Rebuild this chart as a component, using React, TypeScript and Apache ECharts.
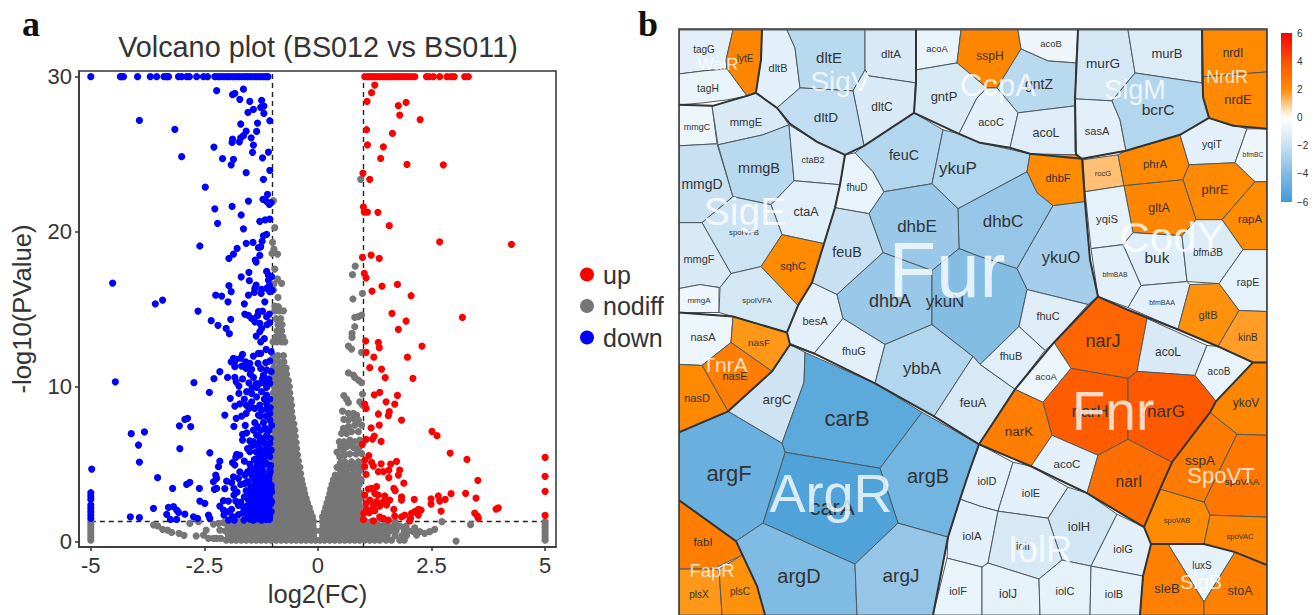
import React, { useEffect, useRef } from "react";
import * as echarts from "echarts";

const FONT = "'Liberation Sans', Arial, sans-serif";

/* ---------- panel a: volcano plot values (log2FC, -log10 P) ---------- */
const cappedP = 30;
const downCappedX = [-5, -4.35, -4.32, -4.28, -3.97, -3.69, -3.55, -3.39, -3.33, -3.29, -3.07, -3, -2.89, -2.83, -2.67, -2.52, -2.43, -2.27, -2.2, -2.14, -2.07, -2, -1.94, -1.87, -1.8, -1.74, -1.67, -1.6, -1.54, -1.47, -1.4, -1.34, -1.27, -1.2, -1.14, -1.1];
const upCappedX = [1.03, 1.1, 1.16, 1.22, 1.28, 1.35, 1.41, 1.47, 1.54, 1.6, 1.66, 1.72, 1.78, 1.85, 1.91, 1.98, 2.05, 2.13, 2.39, 2.45, 2.54, 2.68, 2.84, 2.93, 3, 3.23, 3.31];

const downHigh = [[-2.23,29.1],[-1.88,28.84],[-1.83,28.92],[-1.64,29.2],[-1.72,28.54],[-1.5,28.41],[-1.24,28.47],[-1.26,28.02],[-1.19,28.11],[-1.42,27.89],[-1.54,27.7],[-1.19,27.63],[-1.06,27.16],[-3.93,27.18],[-1.7,26.95],[-1.33,27.01],[-3.15,26.6],[-1.58,26.49],[-1.35,26.47],[-1.64,26.2],[-1.7,26.06],[-1.47,26.06],[-1.88,25.98],[-1.89,25.76],[-1.73,25.8],[-1.42,25.59],[-2.29,25.46],[-1.44,25.12],[-1.09,25.14],[-3,24.84],[-2.1,24.71],[-1.86,24.67],[-1.22,24.77],[-1.91,24.32],[-1.06,23.96],[-1.58,23.81],[-1.2,23.38],[-2.48,22.88],[-1.11,22.41],[-1.21,22.09],[-1.53,21.98],[-1.13,21.96],[-1.03,21.87],[-1.07,21.76],[-2.27,21.48],[-1.89,21.63],[-1.69,21.08],[-2.21,20.54],[-1.28,20.67],[-1.16,20.77],[-1.06,20.82],[-1.64,20.19],[-1.13,19.83],[-1.2,19.74],[-2.6,19.08],[-1.58,19.25],[-1.43,19.31],[-1.23,19.38],[-1.26,19.03],[-1.31,18.97],[-1.78,18.92],[-1.86,18.56],[-1.96,18.28],[-1.28,18.47],[-1.38,18.17],[-1.36,18.04],[-1.52,17.38],[-1.13,17.44],[-1.09,17.2],[-1.02,17.1],[-1.69,17.08],[-1.51,16.84],[-4.52,16.69],[-1.09,16.88],[-1.96,16.52],[-1.36,16.56],[-1.39,16.34],[-1.07,16.54],[-1.24,16.28],[-1.13,16.34],[-1.01,16.24],[-1.91,16.13],[-2.25,15.91],[-2.12,15.85],[-1.53,15.91],[-1.4,16.09],[-1.25,16.02],[-1.06,16.13],[-3.42,15.59],[-3.58,15.35],[-1.98,15.48],[-1.62,15.35],[-1.17,15.48]];
const downMid = [[-2.64,14.88],[-2.35,14.26],[-2.2,13.96],[-1.92,14.34],[-2.02,13.76],[-1.95,13.42],[-1.61,14.69],[-1.53,14.6],[-1.46,14.41],[-1.39,14.19],[-1.31,14.84],[-1.22,14.88],[-1.33,14.58],[-1.07,14.69],[-1.13,14.52],[-1.06,14.13],[-1.28,14.09],[-1.24,13.76],[-1.28,13.55],[-1.36,13.27],[-1.26,12.9],[-1.66,12.09],[-1.31,12.15],[-1.42,11.98],[-1.26,12.15],[-1.14,12.41],[-1.03,12.26],[-1.86,11.83],[-1.8,11.76],[-1.91,11.61],[-1.84,11.55],[-1.59,11.61],[-1.06,11.66],[-1.83,11.29],[-1.68,11.33],[-1.58,11.18],[-1.46,11.12],[-1.26,11.18],[-1.13,11.08],[-1.03,10.97],[-2.16,10.97],[-1.49,10.82],[-1.2,10.75],[-2.29,10.52],[-1.99,10.6],[-1.83,10.6],[-1.42,10.6],[-4.46,10.32],[-2.73,10.26],[-1.8,10.32],[-1.28,10.22],[-1.17,10.22],[-1.06,10.22],[-1.74,10.04],[-1.35,9.96],[-1.13,9.96],[-1.74,9.57],[-1.57,9.68],[-1.46,9.57],[-1.24,9.68],[-2.39,9.63],[-1.13,9.46],[-1.35,9.35],[-1.93,9.25],[-1.46,9.03],[-1.58,8.82],[-1.83,8.75],[-1.28,8.82],[-1.13,8.92],[-1.49,8.71],[-1.39,8.6],[-1.24,8.49],[-1.58,8.28],[-2.05,8.17],[-1.31,8.17],[-1.06,8.28],[-1.8,7.96],[-1.39,7.68],[-1.2,7.68],[-1.06,7.85],[-2.87,7.96],[-2.93,7.89],[-3.05,7.48],[-2.8,7.42],[-1.85,7.44],[-1.16,7.31],[-3.82,7.08],[-4.11,6.97],[-1.57,7.03],[-1.66,6.92],[-1.35,6.88],[-1.28,6.73],[-1.13,6.88],[-1.66,6.56],[-3.95,6.24],[-1.46,6.19],[-3.04,6],[-1.28,6.45],[-1.17,6.34],[-1.06,6.34],[-1.28,6.02],[-1.13,6.02],[-1.03,5.91],[-1.5,5.81],[-2.38,5.74]];
const downLow = [[-1.79,5.63],[-1.72,5.59],[-1.81,5.44],[-1.28,5.59],[-1.17,5.48],[-1.06,5.48],[-2.16,5.2],[-3.93,5.14],[-1.88,5.1],[-1.83,4.95],[-1.5,5.01],[-1.28,5.16],[-1.13,5.05],[-4.98,4.69],[-2.19,4.84],[-1.39,4.73],[-1.24,4.73],[-1.06,4.73],[-3.53,4.13],[-2.25,4.3],[-1.86,4.19],[-1.75,4.09],[-1.61,4.3],[-1.46,4.3],[-1.31,4.3],[-1.2,4.3],[-1.07,4.3],[-2.23,4.09],[-2.3,3.87],[-2.01,3.91],[-1.9,3.81],[-1.61,3.76],[-1.39,3.87],[-1.24,3.87],[-1.09,3.87],[-2.82,3.83],[-2.89,3.7],[-3.2,3.44],[-2.61,3.44],[-2.23,3.44],[-2.28,3.38],[-2.05,3.42],[-1.85,3.44],[-1.46,3.44],[-1.31,3.44],[-1.17,3.44],[-1.03,3.44],[-5,3.16],[-5,2.95],[-5,2.73],[-5,2.37],[-5,2.15],[-5,1.94],[-5,1.72],[-5,1.5],[-1.85,3.01],[-1.5,3.01],[-1.35,3.01],[-1.22,3.01],[-1.07,3.01],[-2.6,2.62],[-2.49,2.47],[-2.08,2.65],[-1.97,2.62],[-1.81,2.62],[-1.53,2.69],[-1.42,2.58],[-1.28,2.62],[-1.13,2.62],[-1.02,2.58],[-2.16,2.3],[-1.57,2.3],[-1.64,2.22],[-1.46,2.26],[-1.35,2.26],[-1.24,2.26],[-1.09,2.26],[-3.62,2.15],[-3.29,2.22],[-3.18,2.26],[-3.11,2.04],[-3.07,1.89],[-1.9,2.09],[-2.08,2.04],[-1.97,1.94],[-1.57,1.94],[-1.46,1.94],[-1.31,1.94],[-1.17,1.89],[-1.03,1.94],[-3.33,1.76],[-2.93,1.78],[-2.41,1.72],[-2.07,1.72],[-1.5,1.61],[-1.35,1.61],[-1.2,1.61],[-1.06,1.61],[-4.13,1.61],[-3.93,1.55],[-2.74,1.61],[-2.65,1.51],[-2.38,1.51],[-3.25,1.44],[-3.11,1.44],[-1.97,1.4],[-1.84,1.4],[-1.63,1.4],[-1.42,1.4],[-1.24,1.4],[-1.07,1.44],[-1.39,3.2],[-1.27,3.22],[-1.13,3.24],[-1.02,3.2],[-1.4,2.8],[-1.25,2.82],[-1.1,2.84],[-1.46,2.45],[-1.3,2.43],[-1.16,2.44],[-1.04,2.42],[-1.4,2.1],[-1.26,2.08],[-1.12,2.06],[-1.42,1.78],[-1.28,1.76],[-1.1,1.76],[-1.38,3.66],[-1.26,3.66],[-1.13,3.68],[-1.03,3.66],[-1.36,4.05],[-1.22,4.06],[-1.08,4.05],[-1.36,4.52],[-1.2,4.52],[-1.05,4.52],[-1.34,4.95],[-1.2,4.95],[-1.04,4.93],[-1.36,5.35],[-1.22,5.36],[-1.36,5.8],[-1.2,5.8],[-1.08,5.78],[-1.38,6.25],[-1.2,6.62],[-1.05,6.66],[-1.26,7.2],[-1.08,7.16],[-1.26,8.1],[-1.14,8.1],[-1.14,8.55],[-1.05,8.64],[-1.18,9.2],[-1.06,9.2],[-1.22,10.5],[-1.08,10.5]];
const downDense = [[-1.33,7.42],[-1.02,7.5],[-1.5,6.5],[-1.42,6.45],[-1.55,6.0],[-1.4,5.3],[-1.1,5.9],[-1.48,4.7],[-1.55,4.5],[-1.42,4.1],[-1.55,3.9],[-1.48,3.6],[-1.58,3.3],[-1.62,2.9],[-1.7,2.55],[-1.75,2.35],[-1.66,1.85],[-1.55,1.6],[-1.75,1.75],[-1.88,1.62],[-1.44,3.15],[-1.18,3.58],[-1.06,2.76],[-1.18,2.98],[-1.33,1.48],[-1.15,1.44],[-1.5,1.46],[-1.7,3.7],[-1.78,3.2],[-1.72,4.5],[-1.62,5.2],[-1.6,7.5],[-1.42,7.2],[-1.52,8.6],[-1.68,8.1],[-1.72,8.9],[-1.36,10.2],[-1.52,10.25],[-1.66,10.5],[-1.45,9.92],[-1.62,9.2],[-1.32,11.5],[-1.15,11.55],[-1.5,11.5],[-1.7,11.85],[-1.18,13.1],[-1.12,14.0]];

const upHigh = [[1.25,29.46],[1.18,28.97],[1.08,28.41],[1.94,28.34],[1.77,28.13],[1.8,27.53],[2.25,27.23],[1.07,26.58],[1.64,26.34],[1.09,25.61],[1.44,25.48],[1.38,24.73],[1.96,24.34],[2.76,24.32],[0.99,23.78],[1.14,23.38],[1,21.61],[1.02,21.27],[1.09,21.27],[1.32,21.25],[1.57,20.39],[2.68,19.35],[4.26,19.18],[0.98,18.34],[1.17,18.49],[1.35,18.28],[1.02,17.31],[1.06,17.03],[1.75,16.6],[1.41,16.49],[1.19,16.17],[2.05,15.87]];
const upLow = [[1.63,14.73],[3.18,14.47],[1.94,14.24],[1.77,13.7],[1.05,12.95],[1.33,12.86],[1.35,12.52],[2.29,12.62],[1.06,12.22],[1.23,11.91],[1.97,11.91],[1.14,11.23],[1.4,11.14],[1.48,10.58],[2.09,10.54],[1.24,9.48],[1.36,9.63],[1.75,9.44],[1.5,9.03],[1.69,8.88],[1.03,8.88],[1.06,8.6],[1.33,8.24],[1.57,8.39],[1.55,8.13],[1.84,7.85],[1.17,7.35],[1.35,7.53],[2.51,7.12],[2.62,6.84],[1.06,6.6],[1.24,6.82],[1.2,6.62],[1.39,6.47],[0.98,6.3],[2.91,5.72],[3.28,5.31],[5,5.44],[1.12,5.55],[1.03,5.27],[1.18,5.12],[1.22,4.88],[1.39,5.03],[1.6,5.01],[1.73,5.18],[1.03,4.84],[1.06,4.34],[1.33,4.52],[1.44,4.52],[1.56,4.62],[1.8,4.62],[1.77,4.3],[1.56,4.13],[5,4.22],[3.52,3.96],[1.89,3.78],[1.11,3.4],[1.18,3.44],[1.29,3.55],[1.67,3.44],[1.7,3.29],[5,3.25],[1.03,3.01],[1.25,3.12],[1.33,3.01],[1.47,2.95],[1.84,2.9],[1.84,2.69],[2.12,2.73],[2.49,2.77],[2.65,2.95],[2.93,3.1],[3.25,3.12],[3.48,2.82],[2.68,2.62],[2.8,2.73],[2.49,2.43],[1.14,2.69],[1.29,2.58],[1.44,2.58],[1.58,2.69],[1.06,2.47],[1.22,2.37],[1.36,2.3],[1.51,2.37],[1.07,2.09],[1.18,2.04],[1.67,2.09],[2.21,2.09],[2.27,2.04],[2.71,1.98],[3.97,2.19],[3.92,2.11],[1.01,1.83],[1.13,1.87],[1.25,2],[2.13,1.94],[2.06,1.83],[2.21,1.72],[1.91,1.72],[3.45,1.85],[5,1.7],[1,1.44],[1.22,1.35],[1.36,1.61],[1.44,1.51],[1.55,1.4],[1.69,1.66],[1.84,1.61],[2.04,1.51],[2.02,1.35],[3.53,1.51],[3.51,1.66]];

const nodiffScattered = [[-0.98,22],[-0.95,20.26],[-1,19.31],[-0.97,18.88],[-0.89,18.56],[-1.01,18.6],[-0.95,17.59],[-0.89,16.95],[-0.8,16.67],[-0.97,16.62],[-0.98,16.24],[-0.88,15.76],[-0.87,15.16],[-0.95,15.2],[0.94,23.38],[0.82,17.78],[0.76,17.23],[0.98,16.02],[0.77,15.66],[0.89,14.52],[0.81,14.47],[0.96,14.62],[0.81,13.87],[0.75,13.44],[0.75,13.18],[0.67,12.62],[0.74,12.43],[0.96,12.22],[0.67,10.9],[0.78,10.75],[0.81,10.6],[0.89,10.43],[0.96,10.26],[0.98,9.53],[0.57,9.42],[0.63,9.2],[0.67,8.97],[0.92,9.03],[0.98,8.82],[0.54,8.43],[0.67,8.28],[0.78,8.28],[0.85,8.17],[0.57,7.89],[0.67,7.85],[0.78,7.96],[0.89,7.85],[0.96,7.53],[0.56,7.31],[0.67,7.42],[0.81,7.53],[0.52,6.99],[0.63,6.99],[0.74,7.1],[0.89,7.1],[0.47,6.45],[0.57,6.45],[0.7,6.56],[0.81,6.45],[0.92,6.56],[0.5,6.13],[0.63,6.13],[0.78,6.09],[0.92,6.13],[0.48,5.48],[0.59,5.59],[0.7,5.66],[0.84,5.66],[0.96,5.7],[0.59,5.16],[0.49,5.06],[0.74,5.16],[0.89,5.16],[0.5,4.58],[0.63,4.62],[0.78,4.62],[0.92,4.58],[0.42,4.8],[0.56,4.9],[0.7,4.9],[0.84,4.88],[0.96,4.9],[0.42,5.78],[0.56,5.85],[0.86,5.95],[0.68,6.22]];
const nodiffFarLeft = [[-3.62,1.08],[-3.53,1.03],[-3.42,0.8],[-3.31,0.75],[-3.22,0.6],[-3.06,0.54],[-2.95,0.41],[-2.68,0.37],[-2.82,1.18],[-2.63,1.29],[-2.52,0.43],[-2.46,0.75],[-2.41,0.22],[-2.3,0.22],[-2.23,0.22],[-2.14,0.22],[-2.3,1.14],[-2.19,1.18],[-2.08,1.23],[-2.16,0.75]];
const nodiffFarRight = [[2.13,0.9],[2.24,0.65],[2.35,0.54],[2.46,0.65],[2.57,0.8],[2.73,1.29],[3.36,1.1],[3.04,0.04],[2.1,0.65],[2.17,0.43]];
const nodiffEdgeColumns = [[-5,0.1],[-5,0.3],[-5,0.5],[-5,0.7],[-5,0.9],[-5,1.1],[-5,1.28],[5,0.1],[5,0.3],[5,0.5],[5,0.7],[5,0.9],[5,1.1],[5,1.28]];

const nodiffBandY01 = [-2.02,-1.91,-1.8,-1.69,-1.58,-1.47,-1.36,-1.25,-1.14,-1.03,-0.92,-0.81,-0.7,-0.59,-0.48,-0.37,-0.26,-0.15,-0.05,0.05,0.15,0.26,0.37,0.48,0.59,0.7,0.81,0.92,1.03,1.14,1.25,1.36,1.5,1.62,1.8,1.9];
const nodiffBandY04 = [-1.97,-1.85,-1.74,-1.63,-1.52,-1.41,-1.3,-1.19,-1.08,-0.97,-0.86,-0.75,-0.64,-0.53,-0.42,-0.31,-0.2,-0.1,0.1,0.2,0.31,0.42,0.53,0.64,0.75,0.86,0.97,1.08,1.19,1.3,1.41,1.52,1.7,1.85,1.95];
const nodiffBandY07 = [-2.04,-1.92,-1.81,-1.7,-1.59,-1.48,-1.37,-1.26,-1.15,-1.04,-0.93,-0.82,-0.71,-0.6,-0.49,-0.38,-0.27,-0.16,-0.06,0.06,0.16,0.27,0.38,0.49,0.6,0.71,0.82,0.93,1.04,1.15,1.26,1.37,1.48,1.59,1.72,1.9,2];
const nodiffBandY10 = [-1.98,-1.86,-1.75,-1.64,-1.53,-1.42,-1.31,-1.2,-1.09,-0.98,-0.87,-0.76,-0.65,-0.54,-0.43,-0.32,-0.21,-0.11,0.11,0.21,0.32,0.43,0.54,0.65,0.76,0.87,0.98,1.09,1.2,1.31,1.42,1.53,1.66,1.8,1.94];
const nodiffBandY13 = [-1.95,-1.83,-1.72,-1.6,-1.5,-1.38,-1.27,-1.16,-1.05,-0.94,-0.83,-0.72,-0.61,-0.5,-0.39,-0.28,-0.17,-0.1,0.1,0.17,0.28,0.39,0.5,0.61,0.72,0.83,0.94,1.06,1.18,1.3,1.48,1.7];

const nodiffLeftLobe = [
[1.6,[-0.98,-0.88,-0.78,-0.68,-0.58,-0.48,-0.38,-0.28,-0.18,-0.12]],
[1.9,[-0.96,-0.85,-0.75,-0.65,-0.55,-0.45,-0.35,-0.25,-0.16]],
[2.2,[-0.98,-0.88,-0.78,-0.68,-0.58,-0.48,-0.38,-0.28,-0.19]],
[2.5,[-0.96,-0.85,-0.75,-0.65,-0.55,-0.45,-0.35,-0.23]],
[2.8,[-0.98,-0.88,-0.78,-0.68,-0.58,-0.48,-0.38,-0.26]],
[3.1,[-0.96,-0.85,-0.75,-0.65,-0.55,-0.45,-0.36,-0.29]],
[3.4,[-0.98,-0.88,-0.78,-0.68,-0.58,-0.48,-0.4,-0.31]],
[3.7,[-0.96,-0.85,-0.75,-0.65,-0.55,-0.45,-0.34]],
[4,[-0.98,-0.88,-0.78,-0.68,-0.58,-0.48,-0.36]],
[4.2,[-0.93,-0.83,-0.72,-0.62,-0.52,-0.42]],
[4.4,[-0.96,-0.85,-0.75,-0.65,-0.55,-0.46,-0.38]],
[4.6,[-0.93,-0.82,-0.7,-0.6,-0.5]],
[4.8,[-0.98,-0.88,-0.78,-0.68,-0.58,-0.5,-0.4]],
[5,[-0.93,-0.82,-0.7,-0.6,-0.47]],
[5.2,[-0.96,-0.85,-0.75,-0.65,-0.55,-0.43]],
[5.4,[-0.93,-0.82,-0.7,-0.6,-0.5]],
[5.6,[-0.98,-0.88,-0.78,-0.68,-0.58,-0.45]],
[5.8,[-0.92,-0.82,-0.7,-0.6,-0.5]],
[6,[-0.96,-0.85,-0.75,-0.65,-0.56,-0.47]],
[6.2,[-0.92,-0.82,-0.7,-0.6,-0.52]],
[6.4,[-0.98,-0.88,-0.78,-0.68,-0.58,-0.48]],
[6.6,[-0.93,-0.82,-0.72,-0.6,-0.53]],
[6.8,[-0.96,-0.85,-0.75,-0.65,-0.5]],
[7,[-0.92,-0.82,-0.7,-0.58]],
[7.2,[-0.98,-0.88,-0.78,-0.68,-0.59,-0.51]],
[7.4,[-0.92,-0.82,-0.7,-0.6]],
[7.6,[-0.96,-0.85,-0.75,-0.65,-0.53]],
[7.8,[-0.92,-0.82,-0.7,-0.6]],
[8,[-0.98,-0.88,-0.78,-0.68,-0.56]],
[8.2,[-0.92,-0.82,-0.72,-0.62]],
[8.4,[-0.96,-0.85,-0.75,-0.65,-0.58]],
[8.6,[-0.92,-0.82,-0.72,-0.62]],
[8.8,[-0.98,-0.88,-0.78,-0.68,-0.58]],
[9,[-0.92,-0.82,-0.7,-0.62]],
[9.2,[-0.96,-0.85,-0.75,-0.6]],
[9.4,[-0.92,-0.82,-0.68]],
[9.6,[-0.98,-0.88,-0.78,-0.7,-0.62]],
[9.8,[-0.92,-0.82,-0.7]],
[10,[-0.96,-0.85,-0.75,-0.63]],
[10.2,[-0.92,-0.82,-0.7]],
[10.4,[-0.98,-0.88,-0.78,-0.65]],
[10.6,[-0.92,-0.82,-0.72]],
[10.8,[-0.96,-0.85,-0.75,-0.69]],
[11,[-0.92,-0.82,-0.72]],
[11.2,[-0.98,-0.88,-0.78,-0.7]],
[11.6,[-0.96,-0.85,-0.75]],
[12,[-0.98,-0.88,-0.76]],
[12.9,[-0.99,-0.9,-0.8,-0.73]],
[13.2,[-0.93,-0.84,-0.77]],
[13.6,[-0.9,-0.8]],
[14,[-0.88,-0.79]],
[14.4,[-0.92,-0.82]],
[14.9,[-0.95,-0.85,-0.76]],
];
const nodiffRightLobe = [
[1.6,[0.1,0.2,0.3,0.4,0.5,0.6,0.7,0.8,0.9]],
[1.9,[0.14,0.24,0.34,0.44,0.54,0.64,0.74,0.84,0.94]],
[2.2,[0.17,0.27,0.37,0.47,0.57,0.67,0.77,0.87,0.95]],
[2.5,[0.2,0.3,0.4,0.5,0.6,0.7,0.8,0.9]],
[2.8,[0.23,0.33,0.43,0.53,0.63,0.73,0.83,0.93]],
[3.1,[0.26,0.36,0.46,0.56,0.66,0.76,0.86,0.95]],
[3.4,[0.28,0.38,0.48,0.58,0.68,0.78,0.88]],
[3.7,[0.31,0.41,0.51,0.61,0.71,0.81,0.91]],
[4,[0.34,0.44,0.54,0.64,0.74,0.84,0.95]],
[4.3,[0.38,0.48,0.58,0.68,0.78,0.88]],
];

/* ---------- panel b: Voronoi treemap, [gene, log2FC, label size, label x, label y, outline] ---------- */
const walR = [
["tagG",-1,10,704,50,[679,30,733,30,726,60,727,69,703,71,679,74]],
["lytE",2.2,10,745,59,[733,30,762,30,761,60,756,92,747,96,727,69,726,60]],
["tagH",-0.8,10.3,708,89,[679,74,703,71,727,69,747,96,727,100,703,103,679,105]],
];
const sigV = [
["dltB",-1,11,778,68,[762,30,787,30,795,48,800,88,777,108,756,93,761,60]],
["dltE",-2.4,15,829,58,[787,30,865,30,865,70,853,91,800,88,795,48]],
["dltA",-1.4,11.5,891,54,[865,30,916,30,916,83,869,76,865,70]],
["dltC",-1.4,12,882,107,[865,70,869,76,916,83,914,113,864,146,853,91]],
["dltD",-2.2,13.7,826,118,[800,88,853,91,864,146,845,155,817,142,790,124,777,108]],
];
const sigE = [
["mmgC",-0.7,9,697,127,[679,105,712,106,717,144,679,146]],
["mmgE",-1.4,11.3,746,122,[712,106,747,96,756,93,777,108,789,125,763,135,718,145]],
["mmgD",-2,14,702,184,[679,146,717,144,733,197,702,223,679,223]],
["mmgB",-2.4,14.5,759,168,[718,145,763,135,789,125,794,181,771,205,733,197]],
["ctaB2",-1.2,9,813,160,[789,125,817,142,845,155,840,185,794,181]],
["ctaA",-1.1,12.5,806,212,[794,181,840,185,835,208,824,244,782,235,771,205]],
["spoIVFB",-1.9,7.8,744,233,[733,197,771,205,782,235,761,267,731,274,702,223]],
["sqhC",2,11,793,266,[782,235,824,244,812,283,798,306,761,267]],
["mmgF",-1.4,11,699,259,[679,223,702,223,731,274,720,288,700,285,679,289]],
["mmgA",-0.6,8,699,301,[679,289,700,285,719,288,719,313,679,313]],
["spoIVFA",-1.6,7.8,757,301,[720,288,731,274,761,267,798,306,787,333,733,317,719,313]],
];
const fur = [
["fhuD",-0.8,10,857,188,[845,155,855,153,873,172,884,192,869,214,835,208,840,185]],
["feuC",-2.6,14.3,904,155,[855,153,864,146,914,113,943,130,932,184,884,192,873,172]],
["ykuP",-2.6,17,958,169,[943,130,959,134,980,143,1030,154,1027,172,958,209,932,184]],
["dhbF",2,11,1058,178,[1030,154,1080,155,1083,160,1085,202,1053,206,1037,193,1027,172]],
["dhbC",-3.4,17,1003,222,[1027,172,1037,193,1053,206,1017,269,980,257,959,249,958,209]],
["ykuO",-3,16.5,1061,257,[1053,206,1085,202,1090,260,1098,297,1088,305,1027,290,1017,269]],
["dhbE",-3.3,17,917,227,[884,192,932,184,958,209,959,249,932,271,883,253,869,214]],
["feuB",-2,14.3,847,252,[835,208,869,214,883,253,837,295,812,283,824,244]],
["besA",-1,11,815,321,[812,283,837,295,843,319,814,354,788,343,787,333,798,306]],
["dhbA",-3.3,18,890,301,[883,253,932,271,932,325,885,345,843,319,837,295]],
["fhuG",-1,11,854,352,[843,319,885,345,875,384,814,354]],
["ybbA",-2.6,16.7,922,369,[885,345,932,325,973,357,934,417,875,384]],
["ykuN",-3.9,17,945,302,[932,271,959,249,980,257,1017,269,1027,290,1019,327,980,365,973,357,932,325]],
["fhuC",-1.2,11,1048,316,[1027,290,1088,305,1054,343,1045,351,1019,327]],
["fhuB",-1.1,11,1011,357,[1019,327,1045,351,1015,390,980,365]],
["feuA",-1.5,13,973,403,[973,357,980,365,1015,390,979,445,934,417]],
];
const ccpA = [
["acoA",-0.8,9.4,937,49,[916,30,961,30,957,63,916,70]],
["sspH",2.2,12,990,56,[961,30,1018,30,1021,49,997,88,987,88,957,63]],
["acoB",-0.6,9.4,1051,44,[1018,30,1078,30,1076,63,1048,61,1021,49]],
["gntP",-1.5,13,944,97,[916,70,957,63,987,88,977,98,959,134,914,113]],
["gntZ",-2.4,14,1039,84,[997,88,1021,49,1048,61,1076,63,1075,106,1018,113]],
["acoC",-1,11,991,122,[987,88,997,88,1018,113,1010,148,980,143,959,134,977,98]],
["acoL",-1.2,12.5,1046,133,[1018,113,1075,106,1076,155,1030,154,1010,148]],
];
const sigM = [
["murG",-1.6,13.6,1103,64,[1078,30,1128,30,1135,73,1112,101,1075,99]],
["murB",-1.3,13,1167,54,[1128,30,1202,30,1202,83,1135,73]],
["sasA",-1,11,1097,131,[1075,99,1112,101,1120,120,1126,151,1082,159,1075,152]],
["bcrC",-2.6,15.5,1158,110,[1135,73,1202,83,1209,118,1180,135,1126,151,1120,120,1112,101]],
];
const nrdR = [
["nrdI",2.1,12,1233,53,[1202,30,1267,30,1267,72,1202,77]],
["nrdE",2.1,13,1238,100,[1202,77,1267,72,1267,129,1233,126,1209,118,1203,97]],
];
const codY = [
["rocG",1.1,7.7,1103,174,[1083,160,1118,155,1124,186,1085,192]],
["phrA",2.1,11.4,1155,164,[1118,155,1126,151,1180,135,1189,165,1183,180,1124,186]],
["yqiT",-1,10.6,1212,144,[1180,135,1209,118,1247,129,1235,163,1189,165]],
["bfmBC",-0.6,6.8,1253,155,[1247,129,1267,129,1267,182,1255,182,1235,163]],
["phrE",2.1,12.7,1215,190,[1189,165,1235,163,1255,182,1222,220,1196,220,1183,180]],
["gltA",2.2,12.4,1159,208,[1124,186,1183,180,1196,220,1182,236,1133,233]],
["rapA",2,11.4,1250,219,[1255,182,1267,182,1267,250,1243,250,1222,220]],
["yqiS",-0.9,11.3,1107,219,[1085,192,1124,186,1133,233,1123,245,1091,249]],
["buk",-1.2,15.5,1157,258,[1133,233,1182,236,1187,282,1141,286,1123,245]],
["bfmBB",-1.3,10,1208,253,[1182,236,1196,220,1222,220,1243,250,1219,284,1187,282]],
["bfmBAB",-1,6.8,1115,275,[1091,249,1123,245,1141,286,1128,308,1098,297]],
["bfmBAA",-1,7,1162,303,[1141,286,1187,282,1190,285,1178,330,1128,308]],
["rapE",-0.9,10.7,1248,282,[1219,284,1243,250,1267,250,1267,312,1239,311]],
["gltB",1.9,11,1208,315,[1190,285,1219,284,1239,311,1218,347,1178,330]],
["kinB",1.7,10,1248,338,[1239,311,1267,312,1267,363,1253,363,1218,347]],
];
const fnr = [
["narJ",3.3,18,1103,342,[1098,297,1127,310,1147,319,1137,372,1128,379,1071,369,1054,343]],
["acoL",-1.4,12,1168,353,[1147,319,1207,346,1195,376,1137,372]],
["acoB",-0.8,10,1219,372,[1207,346,1218,347,1253,363,1216,402,1195,376]],
["acoA",-0.7,9.5,1046,377,[1054,343,1071,369,1043,403,1015,390]],
["narH",3.6,17,1090,412,[1071,369,1128,379,1128,440,1098,456,1052,436,1043,403]],
["narG",3.7,17,1166,412,[1128,379,1137,372,1195,376,1216,402,1210,413,1172,463,1128,440]],
["narK",2.5,13.5,1019,432,[1015,390,1043,403,1052,436,1031,467,979,445]],
["acoC",-1,11.5,1067,465,[1052,436,1098,456,1087,494,1031,467]],
["narI",3,15.6,1129,482,[1098,456,1128,440,1172,463,1160,490,1144,528,1087,494]],
];
const spoVT = [
["ykoV",2.2,12,1246,404,[1253,363,1267,363,1267,436,1237,435,1210,413,1216,402]],
["sspA",2.6,13.5,1200,461,[1210,413,1237,435,1204,503,1160,490,1172,463]],
["spoVAA",2.7,9.7,1242,482,[1237,435,1267,436,1267,518,1210,516,1204,503]],
["spoVAB",2,7.5,1177,521,[1160,490,1204,503,1210,516,1204,545,1151,545,1144,528]],
["spoVAC",2.2,7.5,1240,537,[1210,516,1267,518,1267,566,1235,553,1204,545]],
];
const sigB = [
["luxS",-0.9,10,1202,566,[1168,545,1204,545,1235,553,1204,603]],
["sleB",2.4,13,1167,589,[1151,545,1168,545,1204,603,1204,616,1140,616,1143,577]],
["stoA",2.4,12.5,1240,592,[1235,553,1267,566,1267,616,1204,616,1204,603]],
];
const iolR = [
["iolD",-1,11,987,482,[979,445,1013,463,998,512,980,507,960,500,970,470]],
["iolE",-1,11,1031,494,[1013,463,1031,467,1068,488,1048,519,998,512]],
["iolH",-1.7,13,1079,527,[1068,488,1087,494,1117,515,1091,567,1062,561,1048,519]],
["iolG",-1,11,1123,550,[1117,515,1144,528,1151,545,1143,577,1091,567]],
["iolA",-1,11.4,972,537,[960,500,980,507,998,512,988,564,982,568,947,559,948,538]],
["iolI",-1.5,11,1023,547,[998,512,1048,519,1062,561,1039,580,988,564]],
["iolF",-0.8,11,958,592,[947,559,982,568,982,616,933,616]],
["iolJ",-0.9,12,1008,595,[982,568,988,564,1039,580,1040,616,982,616]],
["iolC",-0.9,11,1065,592,[1039,580,1062,561,1091,567,1090,616,1040,616]],
["iolB",-0.9,11,1114,595,[1091,567,1143,577,1140,616,1090,616]],
];
const argR = [
["argC",-1.8,13.4,777,400,[790,345,805,353,804,383,782,444,728,412,772,372]],
["carB",-5.1,22,847,419,[805,353,875,384,922,413,880,469,785,453,782,444,804,383]],
["argB",-4.4,20,928,477,[922,413,979,445,970,470,960,500,948,538,898,524,880,469]],
["carA",-5.5,22,832,508,[785,453,880,469,898,524,855,565,763,524]],
["argF",-4.7,22,729,474,[679,433,728,412,782,444,785,453,763,524,736,542,679,501]],
["argD",-4,20,799,577,[763,524,855,565,857,616,765,616,757,587,742,556,736,542]],
["argJ",-3.4,19,901,576,[855,565,898,524,948,538,933,616,857,616]],
];
const tnrA = [
["nasA",-0.7,11,703,338,[679,313,733,317,731,343,702,366,679,365]],
["nasF",1.8,9.8,759,343,[733,317,787,333,790,345,772,372,731,343]],
["nasE",2.5,11,735,377,[731,343,772,372,728,412,702,366]],
["nasD",2.1,11,697,399,[679,365,702,366,728,412,679,433]],
];
const fapR = [
["fabI",2.5,11.5,703,543,[679,501,736,542,742,556,713,570,679,570]],
["plsX",1.8,10,699,595,[679,570,719,570,722,616,679,616]],
["plsC",1.9,10,740,592,[719,570,742,556,757,587,765,616,722,616]],
];
const regulonCells = [walR, sigV, sigE, fur, ccpA, sigM, nrdR, codY, fnr, spoVT, sigB, iolR, argR, tnrA, fapR];

const regulonNames = ["WalR","SigV","SigE","Fur","CcpA","SigM","NrdR","CodY","Fnr","SpoVT","SigB","IolR","ArgR","TnrA","FapR"];
const regulonLabelX = [718,840,745,947,998,1135,1227,1172,1113,1221,1201,1040,831,725,712];
const regulonLabelY = [65,82,212,270,86,90,77,238,412,476,583,550,494,365,571];
const regulonLabelSize = [17,28,39,78,31,27,18,42,55,22,20,36,54,21,18.5];

const regulonBorders = [
[679,105,713,106,747,96,756,93],
[762,30,761,60,756,92],
[756,93,777,108,790,124,817,142,845,155],
[916,30,916,83,914,113],
[845,155,864,146,914,113],
[914,113,959,134,980,143,1010,148,1030,154,1082,159],
[1078,30,1075,99,1076,155,1082,159],
[1082,159,1126,151,1180,135,1209,118],
[1202,30,1203,97,1209,118,1233,126,1267,129],
[845,155,840,185,835,208,824,244,812,283,798,306,787,333],
[679,313,733,317,787,333],
[787,333,790,345,772,372,728,412,679,433],
[790,345,814,354,875,384,934,417,979,445],
[1082,159,1085,202,1090,260,1098,297],
[1098,297,1054,343,1015,390,979,445],
[1098,297,1127,310,1178,330,1218,347,1253,363,1267,363],
[979,445,1031,467,1087,494,1144,528],
[1144,528,1160,490,1172,463,1210,413,1216,402,1253,363],
[979,445,970,470,960,500,948,538,933,616],
[679,501,736,542,757,587,765,616],
[1151,545,1204,545,1235,553,1267,566],
[1144,528,1151,545,1143,577,1140,616],
];

const colorStops = ["#3f9bd6","#7fbbe3","#c8e1f2","#ffffff","#ff8c00","#ff5000","#ff0000"];
const colorTicks = [-6,-4,-2,0,2,4,6];
const xTicks = [-5,-2.5,0,2.5,5];
const yTicks = [0,10,20,30];

const thresholdFC = 1;
const thresholdP = 1.3;

const expandRows = (rows: any[]) => rows.flatMap(([y, xs]) => xs.map((x: number) => [x, y]));
const capped = (xs: number[]) => xs.map((x) => [x, cappedP]);
const band = (xs: number[], y: number) => xs.map((x) => [x, y]);

const nodiffData = [
  ...nodiffEdgeColumns, ...nodiffFarLeft, ...nodiffFarRight, ...nodiffScattered,
  ...band(nodiffBandY01, 0.1), ...band(nodiffBandY04, 0.4), ...band(nodiffBandY07, 0.7), ...band(nodiffBandY10, 1.0), ...band(nodiffBandY13, 1.3),
  ...expandRows(nodiffLeftLobe), ...expandRows(nodiffRightLobe),
];
const downData = [...capped(downCappedX), ...downHigh, ...downMid, ...downLow, ...downDense];
const upData = [...capped(upCappedX), ...upHigh, ...upLow];

const xMin = -5.26, xMax = 5.24, yMin = -0.34, yMax = 30.37;
const panelX0 = 679, panelX1 = 1267, panelY0 = 29, panelY1 = 616;

const cells = regulonCells.flat();
const cellData = cells.map((c: any, i: number) => [c[3], c[4], c[1], i]);
const borderData = regulonBorders.map((b, i) => [b[0], b[1], i]);
const regulonData = regulonNames.map((n, i) => [regulonLabelX[i], regulonLabelY[i], i]);

const pairs = (flat: number[], api: any) => {
  const out: number[][] = [];
  for (let i = 0; i < flat.length; i += 2) out.push(api.coord([flat[i], flat[i + 1]]));
  return out;
};

export default function App() {
  const ref = useRef<HTMLDivElement>(null);
  useEffect(() => {
    document.body.style.margin = "0";
    const chart = echarts.init(ref.current!, null, { renderer: "svg" });
    const dashed = { type: [5, 4] as any, color: "#222", width: 1.4 };
    chart.setOption({
      animation: false,
      backgroundColor: "#fff",
      textStyle: { fontFamily: FONT },
      title: {
        text: "Volcano plot (BS012 vs BS011)", left: 313, top: 27, textAlign: "center",
        textStyle: { fontSize: 28.8, fontWeight: "normal", color: "#333", fontFamily: FONT },
      },
      legend: {
        orient: "vertical", left: 575, top: 257, itemWidth: 14, itemHeight: 14, itemGap: 6.5,
        icon: "circle", data: ["up", "nodiff", "down"],
        textStyle: { fontSize: 25, color: "#333", fontFamily: FONT, padding: [0, 0, 0, 4] },
      },
      grid: [
        { left: 79, top: 71, width: 477, height: 476, show: true, borderColor: "#333", borderWidth: 1.5, backgroundColor: "#fff" },
        { left: panelX0, top: panelY0, width: panelX1 - panelX0, height: panelY1 - panelY0 },
        { left: 1281, top: 33, width: 11, height: 169 },
      ],
      xAxis: [
        {
          gridIndex: 0, type: "value", min: xMin, max: xMax, splitLine: { show: false },
          name: "log2(FC)", nameLocation: "middle", nameGap: 34, nameTextStyle: { fontSize: 25.6, color: "#333", fontFamily: FONT },
          axisLine: { onZero: false, lineStyle: { color: "#333", width: 1.5 } },
          axisTick: { length: 4, lineStyle: { color: "#333", width: 1.5 }, customValues: xTicks },
          axisLabel: { fontSize: 22, color: "#333", margin: 7, fontFamily: FONT, customValues: xTicks },
        },
        { gridIndex: 1, type: "value", min: panelX0, max: panelX1, show: false },
        { gridIndex: 2, type: "value", min: 0, max: 1, show: false },
      ],
      yAxis: [
        {
          gridIndex: 0, type: "value", min: yMin, max: yMax, splitLine: { show: false },
          name: "-log10(PValue)", nameLocation: "middle", nameGap: 44, nameTextStyle: { fontSize: 25.6, color: "#333", fontFamily: FONT },
          axisLine: { onZero: false, lineStyle: { color: "#333", width: 1.5 } },
          axisTick: { length: 4, lineStyle: { color: "#333", width: 1.5 }, customValues: yTicks },
          axisLabel: { fontSize: 22, color: "#333", margin: 7, fontFamily: FONT, customValues: yTicks },
        },
        { gridIndex: 1, type: "value", min: panelY0, max: panelY1, inverse: true, show: false },
        {
          gridIndex: 2, type: "value", min: -6, max: 6, interval: 2, position: "right",
          axisLine: { show: false }, axisTick: { show: false }, splitLine: { show: false },
          axisLabel: { fontSize: 10, color: "#333", margin: 5, align: "left", fontFamily: FONT, formatter: (v: number) => String(v).replace("-", "\u2212") },
        },
      ],
      visualMap: {
        show: false, type: "continuous", min: -6, max: 6, dimension: 2, seriesIndex: 3,
        inRange: { color: colorStops },
      },
      series: [
        {
          name: "nodiff", type: "scatter", xAxisIndex: 0, yAxisIndex: 0, symbolSize: 7.2, z: 3,
          itemStyle: { color: "#767676", opacity: 1 }, data: nodiffData,
          markLine: {
            silent: true, symbol: "none", z: 1, label: { show: false }, lineStyle: dashed,
            data: [
              [{ coord: [-thresholdFC, yMin] }, { coord: [-thresholdFC, yMax] }],
              [{ coord: [thresholdFC, yMin] }, { coord: [thresholdFC, yMax] }],
              [{ coord: [-5, thresholdP] }, { coord: [5, thresholdP] }],
            ],
          },
        },
        { name: "down", type: "scatter", xAxisIndex: 0, yAxisIndex: 0, symbolSize: 7.2, z: 4, itemStyle: { color: "#0000ff", opacity: 1 }, data: downData },
        { name: "up", type: "scatter", xAxisIndex: 0, yAxisIndex: 0, symbolSize: 7.2, z: 5, itemStyle: { color: "#ff0000", opacity: 1 }, data: upData },
        {
          type: "custom", xAxisIndex: 1, yAxisIndex: 1, z: 2, clip: true, data: cellData, silent: true,
          renderItem: (params: any, api: any) => {
            const c: any = cells[api.value(3)];
            const p = api.coord([c[3], c[4]]);
            return {
              type: "group",
              children: [
                { type: "polygon", shape: { points: pairs(c[5], api) }, style: { fill: api.visual("color"), stroke: "#4d585e", lineWidth: 1 } },
                { type: "text", z2: 5, style: { text: c[0], x: p[0], y: p[1], align: "center", verticalAlign: "middle", fontSize: c[2], fill: "#333", fontFamily: FONT } },
              ],
            };
          },
        },
        {
          type: "custom", xAxisIndex: 1, yAxisIndex: 1, z: 3, clip: true, data: borderData, silent: true,
          renderItem: (params: any, api: any) => ({
            type: "polyline",
            shape: { points: pairs(regulonBorders[api.value(2)], api) },
            style: { fill: "none", stroke: "#333", lineWidth: 2 },
          }),
        },
        {
          type: "custom", xAxisIndex: 1, yAxisIndex: 1, z: 4, clip: false, data: regulonData, silent: true,
          renderItem: (params: any, api: any) => {
            const i = api.value(2);
            const p = api.coord([regulonLabelX[i], regulonLabelY[i]]);
            return {
              type: "text",
              style: { text: regulonNames[i], x: p[0], y: p[1], align: "center", verticalAlign: "middle", fontSize: regulonLabelSize[i], fill: "rgba(255,255,255,0.78)", fontFamily: FONT },
            };
          },
        },
        {
          type: "custom", xAxisIndex: 2, yAxisIndex: 2, z: 2, clip: false, data: [[0, -6]], silent: true,
          renderItem: (params: any, api: any) => {
            const a = api.coord([0, 6]);
            const b = api.coord([1, -6]);
            const stops = colorStops.map((color, i) => ({ offset: 1 - (colorTicks[i] + 6) / 12, color })).reverse();
            return {
              type: "rect",
              shape: { x: a[0], y: a[1], width: b[0] - a[0], height: b[1] - a[1] },
              style: { fill: new echarts.graphic.LinearGradient(0, 0, 0, 1, stops) },
            };
          },
        },
      ],
      graphic: [
        { type: "rect", z: 50, shape: { x: panelX0, y: panelY0, width: panelX1 - panelX0, height: 600 }, style: { fill: "none", stroke: "#333", lineWidth: 1.5 } },
        { type: "text", z: 50, x: 22, y: 6, style: { text: "a", fontSize: 36, fontWeight: "bold", fill: "#111", fontFamily: "'Liberation Serif', serif" } },
        { type: "text", z: 50, x: 638, y: 6, style: { text: "b", fontSize: 36, fontWeight: "bold", fill: "#111", fontFamily: "'Liberation Serif', serif" } },
      ],
    });
    return () => chart.dispose();
  }, []);
  return <div ref={ref} style={{ position: "absolute", left: 0, top: 0, width: 1314, height: 615 }} />;
}
